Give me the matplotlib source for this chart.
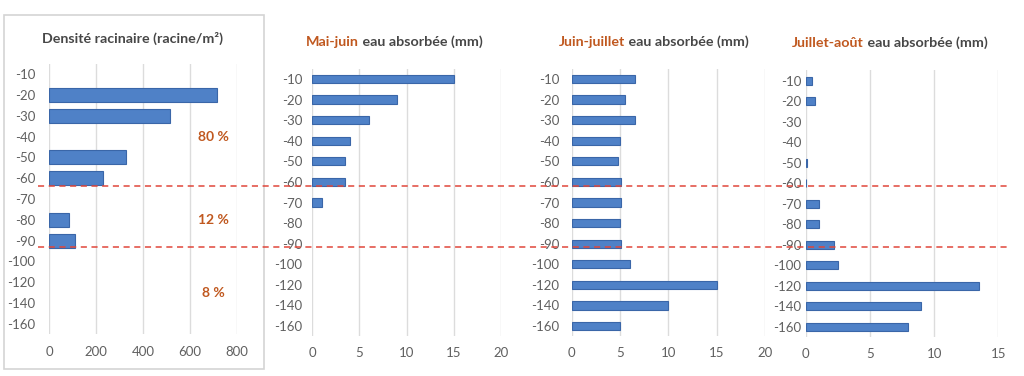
import numpy as np
import matplotlib
matplotlib.use("Agg")
import matplotlib.pyplot as plt
from matplotlib.lines import Line2D
from matplotlib.patches import Rectangle

plt.rcParams['font.family'] = ['Lato', 'DejaVu Sans']

depths = ["-10", "-20", "-30", "-40", "-50", "-60", "-70", "-80", "-90",
          "-100", "-120", "-140", "-160"]

# densité racinaire (racine/m2), par profondeur
root_depths = ["-20", "-30", "-50", "-60", "-80", "-90"]
root_density = [715, 513, 327, 229, 84, 111]

# eau absorbée (mm)
mai_juin = [15, 9, 6, 4, 3.5, 3.5, 1, 0, 0, 0, 0, 0, 0]
juin_juillet = [6.5, 5.5, 6.5, 5, 4.8, 5.1, 5.1, 5, 5.1, 6, 15, 10, 5]
juillet_aout = [0.5, 0.7, 0, 0, 0.1, 0.05, 1, 1, 2.2, 2.5, 13.5, 9, 8]

pct_labels = ["80 %", "12 %", "8 %"]
pct_depth = ["-40", "-80", "-130"]

BAR = "#4f81c7"
EDGE = "#3a66a8"
GRID = "#dcdcdc"
TICK = "#606060"
DARK = "#474747"
ORANGE = "#c0581f"

W, H = 1024, 376
fig = plt.figure(figsize=(W / 100, H / 100), dpi=100)


def add_ax(x0, x1, ytop, ybot):
    return fig.add_axes([x0 / W, 1 - ybot / H, (x1 - x0) / W, (ybot - ytop) / H])


def style(ax, xmax, step, ypad):
    ax.set_xlim(0, xmax)
    ax.set_ylim(len(depths) - 0.5, -0.5)
    ax.set_yticks(np.arange(len(depths)))
    ax.set_yticklabels(depths)
    ax.set_xticks(np.arange(0, xmax + 0.1, step))
    ax.tick_params(axis='both', length=0, labelsize=9.5, labelcolor=TICK)
    ax.tick_params(axis='y', pad=ypad)
    ax.tick_params(axis='x', pad=8)
    for s in ax.spines.values():
        s.set_visible(False)
    ax.grid(axis='x', color=GRID, linewidth=1)
    ax.set_axisbelow(True)


# panneau 1 : densité racinaire
ax1 = add_ax(49, 237, 63.6, 334.4)
style(ax1, 800, 200, 10)
ypos = [depths.index(d) for d in root_depths]
ax1.barh(ypos, root_density, height=0.67, color=BAR, edgecolor=EDGE, linewidth=0.8)
for lab, d in zip(pct_labels, pct_depth):
    if d in depths:
        yy = depths.index(d)
    else:
        yy = (depths.index("-120") + depths.index("-140")) / 2
    ax1.text(700, yy, lab, color=ORANGE, fontsize=10, fontweight='bold',
             ha='center', va='center')
fig.text(133 / W, 1 - 38 / H, "Densité racinaire (racine/m²)", color=DARK,
         fontsize=10.3, fontweight='bold', ha='center', va='center')
fig.add_artist(Rectangle((3.5 / W, 1 - 369 / H), 260 / W, 354 / H,
                         transform=fig.transFigure, fill=False,
                         edgecolor="#d4d4d4", linewidth=1.2))

panels = [
    (mai_juin, "Mai-juin", (312.3, 500.7, 68.7, 336.3), 20, 5, 7, 306, 42),
    (juin_juillet, "Juin-juillet", (571.7, 765, 68.7, 336.3), 20, 5, 9, 559, 42),
    (juillet_aout, "Juillet-août", (805.7, 998.3, 70.4, 337), 15, 5, 3, 792, 43),
]
for vals, period, box, xmax, step, ypad, tx, ty in panels:
    ax = add_ax(*box)
    style(ax, xmax, step, ypad)
    vals = np.array(vals, dtype=float)
    idx = np.nonzero(vals)[0]
    ax.barh(idx, vals[idx], height=0.4, color=BAR,
            edgecolor=EDGE, linewidth=0.8)
    t1 = fig.text(tx / W, 1 - ty / H, period, color=ORANGE, fontsize=10.3,
                  fontweight='bold', ha='left', va='center')
    ax.annotate(" eau absorbée (mm)", xy=(1, 0.5), xycoords=t1,
                va='center', ha='left', color=DARK, fontsize=10.3,
                fontweight='bold', annotation_clip=False)

# séparations rouges en pointillés
for yl in [186, 247]:
    fig.add_artist(Line2D([38 / W, 1008 / W], [1 - yl / H, 1 - yl / H],
                          transform=fig.transFigure, color="#e0463a",
                          linewidth=1.1, linestyle=(0, (4, 3))))

fig.savefig("out.png", dpi=100)
